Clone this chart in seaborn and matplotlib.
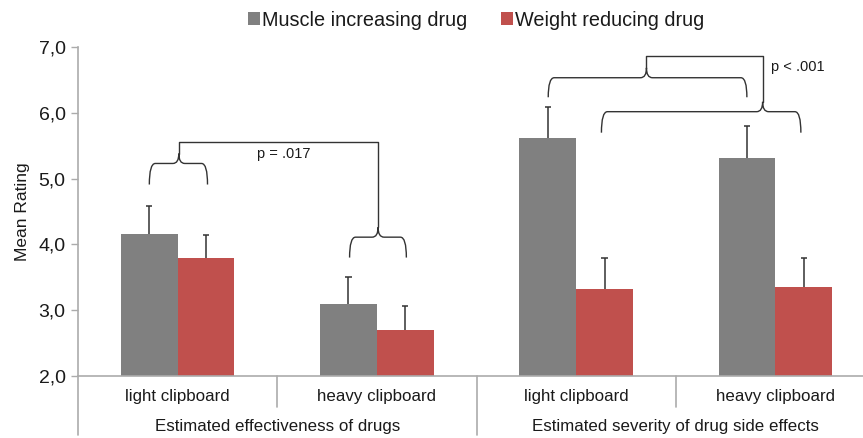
import pandas as pd
import numpy as np
import matplotlib
matplotlib.use('Agg')
import matplotlib.pyplot as plt
from matplotlib.path import Path
from matplotlib.patches import PathPatch
import matplotlib.transforms as mtransforms
import seaborn as sns

# du lieu doc tu hinh
measures = ["Estimated effectiveness of drugs", "Estimated severity of drug side effects"]
clipboards = ["light clipboard", "heavy clipboard"]
drugs = ["Muscle increasing drug", "Weight reducing drug"]
muscle_mean = [4.16, 3.09, 5.61, 5.31]
weight_mean = [3.79, 2.70, 3.32, 3.36]
muscle_err = [0.43, 0.41, 0.48, 0.49]
weight_err = [0.36, 0.36, 0.47, 0.44]
y_ticks = [2.0, 3.0, 4.0, 5.0, 6.0, 7.0]

conds = [m + " | " + c for m in measures for c in clipboards]
df = pd.DataFrame({
    "cond": conds * 2,
    "drug": [drugs[0]] * 4 + [drugs[1]] * 4,
    "rating": muscle_mean + weight_mean,
})
errs = [muscle_err, weight_err]

sns.set_style("white")
plt.rcParams['font.family'] = ['Liberation Sans', 'DejaVu Sans']
txt = '#1a1a1a'
axis_col = '#ababab'
brk_col = '#333333'

fig = plt.figure(figsize=(8.63, 4.38), dpi=100)
ax = fig.add_axes([78 / 863, 62 / 438, 797 / 863, 329 / 438])

sns.barplot(data=df, x="cond", y="rating", hue="drug", order=conds, hue_order=drugs,
            palette=["#808080", "#c0504d"], width=0.57, saturation=1, errorbar=None,
            linewidth=0, ax=ax)

# error bars (chi phia tren)
for cont, e in zip(ax.containers, errs):
    xs = np.array([b.get_x() + b.get_width() / 2 for b in cont])
    hs = np.array([b.get_height() for b in cont])
    tops = hs + np.array(e)
    ax.vlines(xs, hs, tops, color=brk_col, lw=1.1, zorder=3)
    ax.hlines(tops, xs - 0.016, xs + 0.016, color=brk_col, lw=1.1, zorder=3)

ax.set_ylim(2, 7)
ax.set_xlim(-0.5, 3.5)
ax.set_yticks(y_ticks)
ax.set_yticklabels([f"{v:.1f}".replace(".", ",") for v in y_ticks], fontsize=14, color=txt)
ax.tick_params(axis='y', length=5, width=1, color=axis_col, pad=4, left=True)
ax.set_xticks([])
ax.set_xlabel("")
ax.set_ylabel("Mean Rating", fontsize=12.5, color=txt, labelpad=6)
sns.despine(ax=ax, top=True, right=True)
for s in ["left", "bottom"]:
    ax.spines[s].set_color(axis_col)
    ax.spines[s].set_linewidth(1.2)

# nhan truc x hai tang
trans = mtransforms.blended_transform_factory(ax.transData, ax.transAxes)
for i, c in enumerate(conds):
    ax.text(i, -0.061, c.split(" | ")[1], transform=trans, ha='center', va='center',
            fontsize=12.2, color=txt)
for j, m in enumerate(measures):
    ax.text(2 * j + 0.5, -0.155, m, transform=trans, ha='center', va='center',
            fontsize=12.2, color=txt)
for xb in [0.5, 2.5]:
    ax.plot([xb, xb], [0, -0.093], transform=trans, color=axis_col, lw=1.2, clip_on=False)
for xb in [-0.5, 1.5, 3.5]:
    ax.plot([xb, xb], [0, -0.18], transform=trans, color=axis_col, lw=1.2, clip_on=False)


def brace(x0, x1, xc, y_end, y_mid, dy=0.15, rx=0.03):
    verts = [(x0, y_end), (x0, y_mid), (x0 + rx, y_mid),
             (xc - rx, y_mid), (xc, y_mid), (xc, y_mid + dy),
             (xc, y_mid), (xc + rx, y_mid),
             (x1 - rx, y_mid), (x1, y_mid), (x1, y_end)]
    codes = [Path.MOVETO, Path.CURVE3, Path.CURVE3,
             Path.LINETO, Path.CURVE3, Path.CURVE3,
             Path.CURVE3, Path.CURVE3,
             Path.LINETO, Path.CURVE3, Path.CURVE3]
    ax.add_patch(PathPatch(Path(verts, codes), fill=False, edgecolor=brk_col, lw=1.0,
                           clip_on=False, zorder=4))
    return y_mid + dy


# ngoac trai
t1 = brace(-0.142, 0.150, 0.006, 4.91, 5.23)
t2 = brace(0.863, 1.148, 1.006, 3.80, 4.11)
ax.plot([0.006, 0.006, 1.006, 1.006], [t1, 5.552, 5.552, t2], color=brk_col, lw=1.0, zorder=4)
ax.text(0.398, 5.37, "p = .017", fontsize=10.5, color=txt, va='center', ha='left')

# ngoac phai
t3 = brace(1.860, 2.857, 2.353, 6.236, 6.533)
t4 = brace(2.127, 3.128, 2.936, 5.698, 6.017)
ax.plot([2.353, 2.353, 2.936, 2.936], [t3, 6.863, 6.863, t4], color=brk_col, lw=1.0, zorder=4)
ax.text(2.977, 6.70, "p < .001", fontsize=10.5, color=txt, va='center', ha='left')

sns.move_legend(ax, "center", bbox_to_anchor=(0.5516, 0.954), bbox_transform=fig.transFigure,
                ncol=2, frameon=False, title=None, handlelength=0.6, handleheight=0.6,
                handletextpad=0.12, columnspacing=1.7, fontsize=14.3)
for t in ax.get_legend().get_texts():
    t.set_color(txt)

fig.savefig("out.png", dpi=100)
